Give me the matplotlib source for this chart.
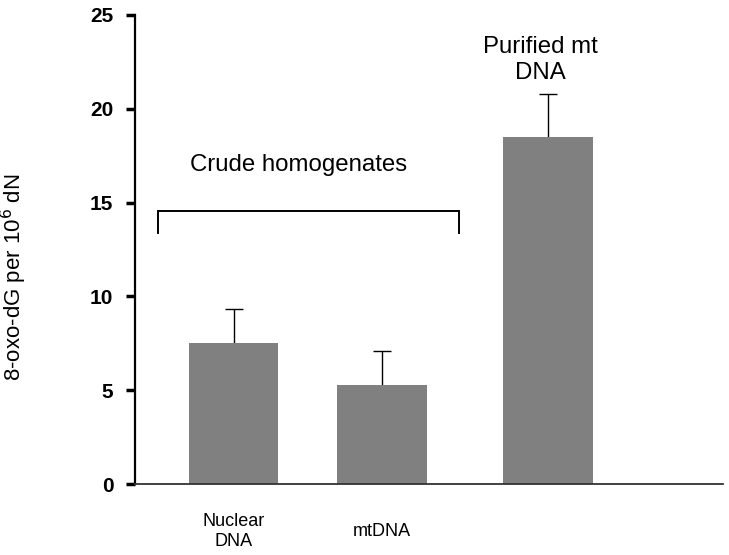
import numpy as np
import matplotlib.pyplot as plt

plt.rcParams['font.family'] = ['Liberation Sans', 'DejaVu Sans']

# data
labels = ['Nuclear\nDNA', 'mtDNA', '']
pos = [0.67, 1.68, 2.81]
means = [7.53, 5.28, 18.5]
err_up = [1.78, 1.82, 2.29]

fig = plt.figure(figsize=(7.29, 5.55), dpi=100)
ax = fig.add_axes([0.1852, 0.1279, 0.8066, 0.8451])

ax.bar(pos, means, width=0.61, color='#808080', zorder=2)
tops = np.array(means) + np.array(err_up)
ax.errorbar(pos, means, yerr=[np.zeros(3), err_up], fmt='none',
            ecolor='black', elinewidth=1.0, capsize=0, zorder=1)
ax.plot(pos, tops, ls='none', marker='_', markersize=13, mew=1.0,
        color='black', zorder=3)

# bracket over the crude homogenates
ax.plot([0.154, 0.154, 2.204, 2.204], [13.38, 14.55, 14.55, 13.38],
        color='black', lw=1.4, solid_joinstyle='miter')
ax.text(1.11, 17.0, 'Crude homogenates', ha='center', va='center', fontsize=17.3)
ax.text(2.76, 22.6, 'Purified mt\nDNA', ha='center', va='center', fontsize=17.3,
        linespacing=1.2)

ax.set_xlim(0, 4.0)
ax.set_ylim(0, 25)
ax.set_yticks([0, 5, 10, 15, 20, 25])
ax.set_xticks(pos)
ax.set_xticklabels(labels, fontsize=13)
for t in ax.get_xticklabels():
    t.set_va('center')
ax.tick_params(axis='x', length=0, pad=34)
ax.tick_params(axis='y', length=6.5, width=2.5, pad=9, labelsize=15)
for t in ax.get_yticklabels():
    t.set_fontweight('bold')

ax.spines['top'].set_visible(False)
ax.spines['right'].set_visible(False)
ax.spines['left'].set_linewidth(1.6)
ax.spines['bottom'].set_linewidth(1.3)
ax.spines['bottom'].set_color('#333333')

ax.set_ylabel('8-oxo-dG per 10$^{6}$ dN', fontsize=16)
ax.yaxis.set_label_coords(-0.18, 0.44)

fig.savefig('out.png', dpi=100)
